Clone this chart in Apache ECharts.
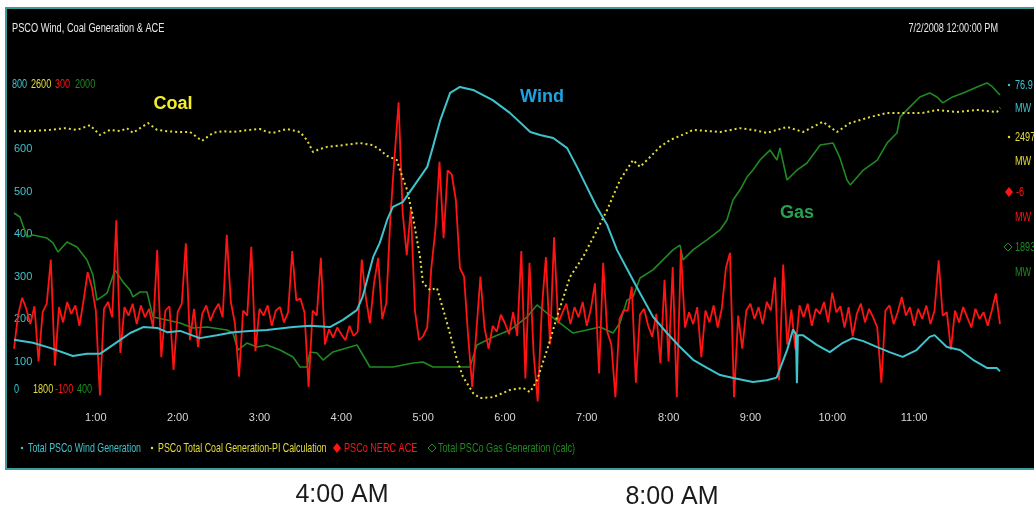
<!DOCTYPE html>
<html>
<head>
<meta charset="utf-8">
<script src="https://cdn.jsdelivr.net/npm/echarts@6/dist/echarts.min.js"></script>
<style>
html,body{margin:0;padding:0;background:#fff;}
#chart{width:1034px;height:509px;}
</style>
</head>
<body>
<div id="chart"></div>
<script>
// ---------- DATA ----------
// Hours after midnight, 7/2/2008
const windHours = [0,0.23,0.44,0.72,0.89,1.05,1.21,1.42,1.58,1.75,1.87,2.03,2.27,2.48,2.68,2.88,3.09,3.41,3.62,3.86,4.02,4.19,4.26,4.39,4.47,4.56,4.63,4.75,4.88,5.05,5.12,5.21,5.33,5.45,5.61,5.85,6.06,6.31,6.43,6.59,6.76,6.88,7.00,7.12,7.25,7.37,7.53,7.65,7.81,7.98,8.14,8.30,8.47,8.63,8.79,9.03,9.20,9.32,9.45,9.52,9.556,9.568,9.58,9.64,9.81,9.97,10.13,10.25,10.38,10.55,10.70,10.86,11.03,11.19,11.25,11.40,11.56,11.72,11.89,12.01,12.05];
const windMW = [151,144,132,113,118,118,139,167,181,179,169,172,155,162,169,172,174,181,184,181,198,221,252,346,379,433,464,475,511,558,605,668,732,746,739,715,685,640,633,626,602,558,511,464,421,362,304,261,205,167,134,104,85,68,61,52,56,62,128,175,165,49,162,162,139,122,144,155,148,134,122,111,127,158,162,134,127,104,85,85,76.9];

const coalHours = [0,0.196,0.44,0.623,0.77,0.929,1.051,1.173,1.295,1.381,1.454,1.54,1.638,1.748,1.87,1.992,2.151,2.297,2.432,2.554,2.676,2.884,3.006,3.092,3.165,3.336,3.495,3.581,3.654,3.739,3.825,4.02,4.228,4.387,4.473,4.558,4.68,4.717,4.803,4.876,4.962,4.998,5.084,5.169,5.292,5.414,5.487,5.609,5.695,5.854,6.061,6.22,6.306,6.392,6.514,6.636,6.795,6.954,7.125,7.247,7.406,7.565,7.651,7.773,7.894,8.017,8.224,8.298,8.628,8.872,9.031,9.202,9.447,9.642,9.886,10.057,10.216,10.46,10.668,10.864,11.108,11.279,11.524,11.768,12.013,12.05];
const coalMW = [2442,2442,2445,2449,2445,2456,2433,2445,2442,2449,2438,2449,2461,2445,2442,2440,2440,2419,2438,2442,2440,2445,2447,2440,2438,2447,2440,2421,2393,2400,2405,2409,2414,2409,2398,2384,2374,2351,2304,2240,2146,2085,2068,2073,1991,1904,1864,1826,1814,1816,1833,1838,1828,1856,1927,2005,2099,2146,2209,2256,2327,2374,2358,2381,2405,2421,2438,2445,2440,2449,2445,2438,2452,2440,2464,2440,2461,2475,2485,2485,2485,2492,2487,2492,2487,2497];

// NERC ACE sampled every 3 minutes from 0:00
const aceStartHour = 0;
const aceStepHours = 0.05;
const aceMW = [
 -35,5,25,12,-6,15,-50,8,18,70,
 -55,14,-4,20,6,16,-8,22,55,38,
 10,-90,12,20,2,116,-40,14,4,18,
 -6,16,2,12,-10,81,-45,10,15,-60,
 8,18,89,-25,12,-33,6,16,-2,10,
 18,2,99,20,-5,-68,10,4,85,-38,
 12,4,16,-8,10,14,-4,8,80,22,
 24,8,-80,10,4,72,-30,-12,-22,-10,
 -18,-25,-8,-20,-15,70,25,-5,42,72,
 0,19,120,190,255,125,75,130,10,-25,
 -20,-10,60,105,185,95,175,170,140,60,
 50,-20,-80,-15,50,-10,-35,-8,-15,5,
 -5,-18,8,-20,80,-70,66,-40,-97,11,
 73,-30,96,-5,7,18,-6,14,2,20,
 -8,12,42,-64,66,-15,-30,-92,0,10,
 10,38,-75,5,12,-8,-21,6,-52,46,
 -50,61,-92,81,-10,8,-6,14,-45,10,
 -4,16,-10,12,60,78,-92,4,-35,10,
 18,0,14,-6,20,10,49,-72,64,-30,
 11,-36,16,2,18,-8,12,6,20,-4,
 31,8,15,-10,14,-20,6,18,-4,12,
 2,-10,-75,10,16,-6,8,26,4,14,
 -8,12,0,16,-6,10,69,4,8,-36,
 10,-4,14,2,-10,12,0,8,-8,10,
 30,-6
];

const gasHours = [0,0.073,0.159,0.232,0.403,0.477,0.538,0.648,0.77,0.892,0.965,1.014,1.137,1.234,1.332,1.418,1.454,1.54,1.625,1.699,1.87,2.029,2.187,2.359,2.603,2.676,2.737,2.847,2.97,3.092,3.251,3.41,3.495,3.581,3.617,3.703,3.776,3.898,4.192,4.228,4.35,4.632,4.876,4.998,5.12,5.45,5.572,5.658,5.854,6.061,6.269,6.392,6.514,6.673,6.831,7.002,7.161,7.32,7.406,7.492,7.565,7.651,7.809,7.931,8.053,8.139,8.176,8.298,8.469,8.628,8.713,8.787,8.872,8.958,9.031,9.117,9.239,9.324,9.361,9.447,9.569,9.691,9.853,10.01,10.09,10.18,10.22,10.38,10.55,10.67,10.79,10.83,10.95,11.07,11.19,11.28,11.35,11.47,11.6,11.77,11.89,11.96,12.05];
const gasMW = [1299,1280,1186,1195,1181,1158,1115,1162,1139,1078,1007,889,922,1031,974,936,904,927,927,809,795,781,758,762,748,734,654,687,668,678,654,621,574,574,645,640,607,645,678,654,574,574,593,598,574,574,574,678,715,748,809,866,828,781,734,748,762,734,781,889,904,993,1031,1078,1125,1148,1078,1125,1172,1219,1266,1360,1407,1468,1501,1548,1595,1548,1605,1454,1501,1534,1619,1628,1562,1454,1431,1501,1548,1628,1675,1751,1798,1845,1864,1845,1817,1845,1864,1892,1911,1892,1854];

const hourTicks = [1,2,3,4,5,6,7,8,9,10,11];
const windTickLabels = [100,200,300,400,500,600];
const topRangeLabels = ['800','2600','300','2000'];
const bottomRangeLabels = ['0','1800','-100','400'];
const legendNames = ['Total PSCo Wind Generation','PSCo Total Coal Generation-PI Calculation','PSCo NERC ACE','Total PSCo Gas Generation (calc)'];
const currentValues = ['76.9','2497','-6','1893'];

// ---------- STYLE ----------
const SANS = "'Liberation Sans',Arial,sans-serif";
const C_WIND = '#3fc3cc', C_COAL = '#e4de3a', C_ACE = '#ff1414', C_GAS = '#1f8a22';

function pairs(xs, ys){ return xs.map((x,i)=>[x, ys[i]]); }
const aceData = aceMW.map((v,i)=>[aceStartHour + i*aceStepHours, v]);

const chart = echarts.init(document.getElementById('chart'), null, {renderer:'canvas'});

// condensed text: normal font squeezed horizontally
function ntxt(text, x, y, fill, size, align, sx){
  return {type:'text', z:100, x:x, y:y, scaleX:(sx||0.74), scaleY:1,
    style:{text:text, x:0, y:0, fill:fill, font:size + 'px ' + SANS, align:align||'left', verticalAlign:'middle'}};
}
function txt(text, x, y, fill, font, align){
  return {type:'text', z:100, style:{text:text, x:x, y:y, fill:fill, font:font, align:align||'left', verticalAlign:'middle'}};
}

const graphics = [
  {type:'rect', z:-10, shape:{x:6,y:8,width:1040,height:461}, style:{fill:'#000', stroke:'#3a9c9c', lineWidth:2}},
  ntxt('PSCO Wind, Coal Generation & ACE', 12, 28, '#e8e8e8', 13, 'left', 0.71),
  ntxt('7/2/2008 12:00:00 PM', 998, 28, '#e8e8e8', 13, 'right', 0.7),
  // top & bottom range labels
  ntxt(topRangeLabels[0], 12, 84, C_WIND, 13, 'left', 0.7),
  ntxt(topRangeLabels[1], 31, 84, C_COAL, 13, 'left', 0.7),
  ntxt(topRangeLabels[2], 55, 84, C_ACE, 13, 'left', 0.7),
  ntxt(topRangeLabels[3], 75, 84, C_GAS, 13, 'left', 0.7),
  ntxt(bottomRangeLabels[0], 14, 389, C_WIND, 13, 'left', 0.7),
  ntxt(bottomRangeLabels[1], 33, 389, C_COAL, 13, 'left', 0.7),
  ntxt(bottomRangeLabels[2], 55, 389, C_ACE, 13, 'left', 0.7),
  ntxt(bottomRangeLabels[3], 77, 389, C_GAS, 13, 'left', 0.7),
  // annotations
  txt('Coal', 173, 104, '#f2ee2a', "bold 18px " + SANS, 'center'),
  txt('Wind', 542, 97, '#1ea2e2', "bold 18px " + SANS, 'center'),
  txt('Gas', 797, 213, '#28a052', "bold 18px " + SANS, 'center'),
  // legend
  {type:'circle', z:100, shape:{cx:22, cy:448, r:1.2}, style:{fill:C_WIND}},
  ntxt(legendNames[0], 28, 448, C_WIND, 13, 'left', 0.68),
  {type:'circle', z:100, shape:{cx:152, cy:448, r:1.2}, style:{fill:C_COAL}},
  ntxt(legendNames[1], 158, 448, C_COAL, 13, 'left', 0.68),
  {type:'polygon', z:100, shape:{points:[[337,443],[341,448],[337,453],[333,448]]}, style:{fill:C_ACE}},
  ntxt(legendNames[2], 344, 448, C_ACE, 13, 'left', 0.7),
  {type:'polygon', z:100, shape:{points:[[432,444],[436,448],[432,452],[428,448]]}, style:{fill:'none', stroke:C_GAS, lineWidth:1}},
  ntxt(legendNames[3], 438, 448, C_GAS, 13, 'left', 0.7),
  // right side current values
  {type:'circle', z:100, shape:{cx:1009, cy:85, r:1.2}, style:{fill:C_WIND}},
  ntxt(currentValues[0], 1015, 85, C_WIND, 13, 'left', 0.7),
  ntxt('MW', 1015, 108, C_WIND, 13, 'left', 0.7),
  {type:'circle', z:100, shape:{cx:1009, cy:137, r:1.2}, style:{fill:C_COAL}},
  ntxt(currentValues[1], 1015, 137, C_COAL, 13, 'left', 0.7),
  ntxt('MW', 1015, 161, C_COAL, 13, 'left', 0.7),
  {type:'polygon', z:100, shape:{points:[[1009,187],[1013,192],[1009,197],[1005,192]]}, style:{fill:C_ACE}},
  ntxt(currentValues[2], 1016, 192, C_ACE, 13, 'left', 0.7),
  ntxt('MW', 1015, 217, C_ACE, 13, 'left', 0.7),
  {type:'polygon', z:100, shape:{points:[[1008,243],[1012,247],[1008,251],[1004,247]]}, style:{fill:'none', stroke:C_GAS, lineWidth:1}},
  ntxt(currentValues[3], 1015, 247, C_GAS, 13, 'left', 0.7),
  ntxt('MW', 1015, 272, C_GAS, 13, 'left', 0.7),
  // captions below
  txt('4:00 AM', 342, 495, '#1a1a1a', "25px " + SANS, 'center'),
  txt('8:00 AM', 672, 497, '#1a1a1a', "25px " + SANS, 'center')
];

const hiddenAxis = {axisLine:{show:false}, axisTick:{show:false}, axisLabel:{show:false}, splitLine:{show:false}};

const option = {
  backgroundColor:'#ffffff',
  animation:false,
  grid:{left:14, right:34, top:64, bottom:105, containLabel:false},
  xAxis:{
    type:'value', min:0, max:12.05, interval:1,
    axisLine:{show:false}, axisTick:{show:false}, splitLine:{show:false},
    axisLabel:{color:'#d6d6d6', fontFamily:SANS, fontSize:11, margin:8,
      formatter:function(v){ return hourTicks.indexOf(v) >= 0 ? v + ':00' : ''; }}
  },
  yAxis:[
    {type:'value', min:0, max:800, interval:100, position:'left',
      axisLine:{show:false}, axisTick:{show:false}, splitLine:{show:false},
      axisLabel:{inside:true, margin:0, color:C_WIND, fontFamily:SANS, fontSize:11,
        formatter:function(v){ return windTickLabels.indexOf(v) >= 0 ? String(v) : ''; }}},
    Object.assign({type:'value', min:1800, max:2600}, hiddenAxis),
    Object.assign({type:'value', min:-100, max:300}, hiddenAxis),
    Object.assign({type:'value', min:400, max:2000}, hiddenAxis)
  ],
  series:[
    {name:'Gas', type:'line', yAxisIndex:3, data:pairs(gasHours, gasMW), showSymbol:false, z:2,
      lineStyle:{color:C_GAS, width:1.6}},
    {name:'ACE', type:'line', yAxisIndex:2, data:aceData, showSymbol:false, z:3,
      lineStyle:{color:C_ACE, width:1.8}},
    {name:'Coal', type:'line', yAxisIndex:1, data:pairs(coalHours, coalMW), showSymbol:false, z:4,
      lineStyle:{color:C_COAL, width:2, type:[2,3]}},
    {name:'Wind', type:'line', yAxisIndex:0, data:pairs(windHours, windMW), showSymbol:false, z:5,
      lineStyle:{color:C_WIND, width:2}}
  ],
  graphic:graphics
};
chart.setOption(option);
</script>
</body>
</html>
